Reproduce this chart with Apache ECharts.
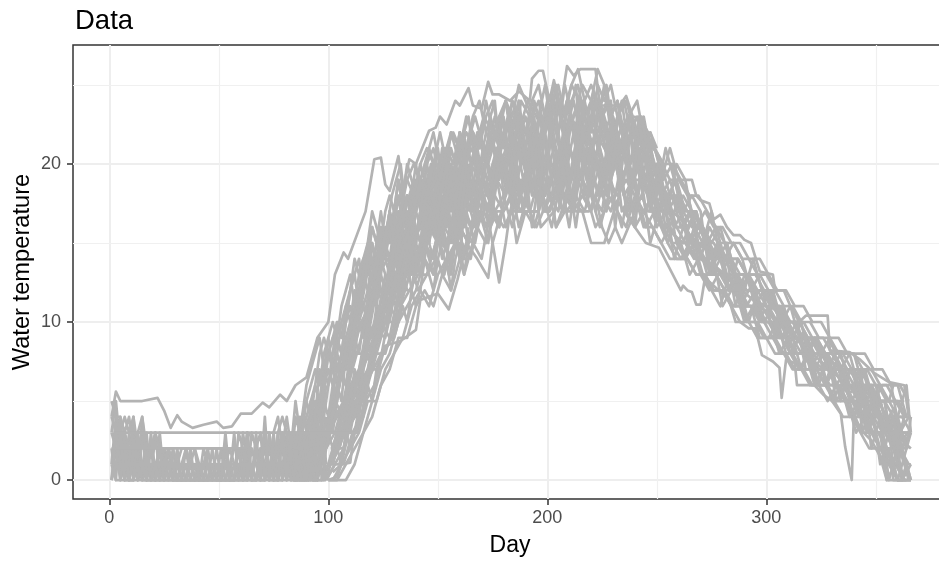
<!DOCTYPE html>
<html>
<head>
<meta charset="utf-8">
<script src="https://cdn.jsdelivr.net/npm/echarts@6/dist/echarts.min.js"></script>
<style>html,body{margin:0;padding:0;background:#fff;overflow:hidden}</style>
</head>
<body>
<div id="main" style="width:939px;height:561px"></div>
<script>
var xTicks = [0, 100, 200, 300];
var yTicks = [0, 10, 20];
var xMinor = [50, 150, 250, 350];
var yMinor = [5, 15, 25];

// days 99.. every 4 days, one row per year
var bandStarts = [99, 100, 101, 102];
var band1 = [3,5,7,9,11,14,13,15,17,16,18,18,20,19,21,20,22,21,23,22,21,23,22,24,23,22,24,23,25,24,23,22,24,22,21,22,20,21,19,18,19,17,17,16,15,16,14,14,13,13,12,11,11,10,10,9,9,8,8,7,7,7,6,6,5,5,4];
var band2 = [0,0,1,2,3,5,7,8,10,11,12,14,13,15,14,16,15,17,16,18,17,18,17,19,18,20,19,18,20,19,18,20,19,18,19,18,17,18,16,16,15,15,14,14,13,13,12,12,11,11,10,10,9,9,8,8,7,7,6,6,5,5,4,4,3,2,1];
var band3 = [1,2,4,5,8,9,12,11,14,15,14,17,16,18,17,19,21,20,19,21,20,22,19,21,23,20,22,24,21,23,20,22,19,21,20,18,20,18,17,18,16,17,15,15,14,14,13,12,12,11,11,10,10,9,9,8,8,7,7,6,6,5,5,4,4,3,2];
var band4 = [2,3,3,6,7,10,10,13,12,15,16,15,18,17,16,19,18,20,22,19,21,19,21,20,22,19,21,19,22,20,22,21,20,21,19,20,19,17,18,16,17,16,16,14,15,13,13,13,12,12,11,11,9,9,9,8,8,8,7,7,6,6,5,5,4,4,3];
var band5 = [0,1,2,4,6,7,9,12,11,13,15,14,16,18,19,17,20,18,21,19,22,20,18,20,21,23,21,20,18,21,23,21,22,20,18,19,21,19,17,17,18,16,15,16,14,13,14,12,11,12,10,11,10,8,9,9,7,7,7,6,6,5,6,4,3,3,1];
var band6 = [4,6,8,9,10,13,15,14,16,18,17,19,18,20,22,21,19,22,20,23,21,24,22,20,23,21,25,22,24,21,23,24,22,20,22,21,19,19,18,19,17,16,17,15,15,14,14,13,13,12,12,11,10,10,9,9,8,8,7,7,7,6,6,5,5,4,4];
var band7 = [1,1,3,3,5,6,8,9,11,12,13,13,15,16,15,17,16,18,17,19,18,20,17,19,18,17,19,17,18,17,19,18,17,19,20,18,16,17,16,15,14,15,15,13,13,12,12,11,11,10,10,9,9,8,8,7,7,6,6,5,5,4,4,3,3,2,0];
var band8 = [2,4,6,7,9,12,11,14,15,14,17,16,15,18,20,18,17,20,22,20,19,21,23,21,19,22,20,23,21,20,22,20,23,21,19,21,18,20,18,16,16,17,16,15,14,15,13,13,12,11,12,10,10,9,8,9,8,7,8,6,5,6,5,3,4,2,3];
var band9 = [0,2,2,5,7,8,11,10,13,13,15,17,16,15,17,18,20,17,19,18,20,18,21,19,20,22,18,20,19,22,19,21,18,20,22,19,20,17,19,17,16,15,14,15,14,13,12,13,11,11,10,9,10,8,8,8,7,6,7,6,5,4,4,3,2,1,0];
var band10 = [3,4,5,8,8,11,12,12,15,16,15,18,20,17,19,17,19,21,18,20,23,19,20,22,19,21,23,19,22,24,21,19,21,23,21,22,19,18,20,18,18,17,17,15,14,14,14,12,13,13,11,10,11,9,10,7,8,8,6,7,6,6,4,5,3,4,2];
var band11 = [1.5,2.5,4,6.5,8,8.5,10.5,13,14.5,13.5,16,17.5,15.5,17,18.5,20,18,19.5,21.5,20.5,18.5,20,22.5,20.5,19,21,23.5,21.5,20,22,24.5,22,19.5,21,22.5,20,18.5,19,17.5,17,16.5,15.5,15,14.5,13.5,13,12.5,12,11.5,11,10.5,10,9.5,9,8.5,8,7.5,7,6.5,6,5.5,5,4.5,4,3.5,3,2.5];
var band12 = [0.5,1,3.5,4.5,6,9.5,9,11.5,13.5,15.5,13,16.5,17.5,15,16,19.5,17,19,17.5,21,19.5,17.5,19,18,22,20,17.5,21,19,17.5,20.5,18.5,20.5,22.5,18,20.5,18,16.5,16,15.5,15,16.5,14,13.5,14.5,12.5,13,11.5,12.5,10.5,11,10.5,8.5,9.5,9,7.5,7,7.5,7,5.5,6,5.5,5,3.5,4.5,2.5,2];
var band13 = [2,3,5,8,10,11,14,16,14,17,19,17,20,16,18,16,18,16,20,17,22,21,24,18,22,17,20,18,23,19,21,18,20,18,21,17,18,20,17,18,15,14,16,16,13,15,12,14,13,12,12,12,9,10,10,9,9,6,8,8,7,7,3,6,6,5,5];
var band14 = [0,0,0,1,3,4,6,7,9,9,11,12,11,13,12,14,14,16,15,17,16,17,19,17,17,19,16,17,17,18,17,19,20,22,17,16,17,16,15,16,15,14,13,13,12,12,11,11,10,10,9,8,8,7,7,7,6,6,5,5,4,3,3,2,1,0,0];
var band15 = [3,6,9,11,14,12,14,18,20,15,16,20,17,19,15,18,17,22,20,22,24,21,17,22,20,19,18,22,25,18,19,23,24,19,23,24,21,21,20,20,19,18,18,17,16,15,15,14,14,14,13,12,12,11,11,10,10,9,9,8,8,8,7,7,6,6,5];
var band16 = [1,3,6,5,9,10,13,12,15,17,15,16,19,18,20,17,16,19,18,16,19,22,20,23,17,18,21,24,20,21,17,19,22,17,18,23,22,19,16,17,18,17,14,16,15,14,11,13,12,11,10,9,9,10,7,7,8,7,5,7,7,4,5,5,2,3,3];
var band17 = [0,1,1,3,4,7,7,10,10,12,14,15,14,16,14,15,17,15,18,15,17,19,16,18,21,18,20,17,19,21,22,20,17,22,18,17,19,15,17,15,14,14,15,13,12,11,13,12,10,10,9,9,8,8,7,8,6,6,5,4,4,3,2,2,0,1,0];
var band18 = [4,7,6,10,12,16,14,17,13,16,18,20,22,19,18,21,23,19,22,24,18,20,24,23,21,24,19,21,23,25,24,21,18,23,24,22,23,20,19,21,19,18,16,17,16,16,15,15,14,13,13,12,11,11,10,10,9,9,8,8,8,7,7,6,5,5,4];
var band19 = [2,2,4,4,6,8,8,9,12,14,12,13,14,13,17,15,14,17,15,19,16,18,21,16,20,18,17,20,16,20,18,17,21,19,17,20,17,19,18,15,15,13,14,14,13,12,11,11,11,9,9,10,8,7,7,6,6,6,6,5,3,4,3,3,1,2,1];
var band20 = [1,4,4,7,10,9,12,15,16,12,15,19,17,20,16,20,22,18,23,21,23,17,19,24,22,23,18,22,24,19,22,25,21,24,20,23,20,18,21,19,17,18,17,13,15,15,13,12,14,12,11,11,10,10,8,9,9,8,7,8,6,7,6,4,4,3,3];
var band21 = [2,4,5,7,9,11,13,14,13,15,17,19,18,16,17,19,21,23,21,18,20,22,24,20,18,22,25,22,19,24,20,23,25,21,19,23,21,22,20,17,20,19,16,15,17,14,14,14,13,11,12,12,10,11,9,8,9,8,8,6,7,5,6,5,4,2,4];
var band22 = [1,2,3,4,6,8,10,9,12,13,14,16,17,14,16,16,15,18,16,17,18,16,18,17,19,17,18,18,17,20,18,16,18,17,16,18,16,16,15,14,14,14,13,13,12,12,11,10,10,9,9,9,8,8,7,6,6,5,6,5,4,4,3,2,1,0,2];
var band23 = [3,3,6,6,8,10,11,14,16,14,16,18,19,21,18,16,20,19,17,21,19,23,21,18,24,22,19,24,22,20,24,23,20,22,23,18,22,21,19,20,17,15,16,15,16,14,15,14,12,13,12,11,10,10,10,9,8,9,8,7,7,7,5,6,6,3,4];
var band24 = [0,1,2,3,5,5,7,8,9,11,12,11,13,14,15,13,15,14,17,16,19,15,17,16,18,16,19,16,20,18,16,17,18,16,19,19,18,16,17,14,16,15,13,12,13,13,12,10,11,10,10,8,9,8,8,6,7,5,6,4,5,3,3,3,2,0,1];
var band25 = [2,5,4,6,7,9,10,11,13,12,14,15,17,15,13,16,19,21,17,18,21,23,18,19,22,18,24,20,17,23,18,24,22,16,21,19,23,20,19,18,16,16,15,14,13,14,12,13,12,12,10,10,9,8,9,8,7,6,7,7,5,6,4,4,2,2,0];
var band26 = [1,3,3,5,5,7,9,11,10,14,13,15,14,17,19,16,21,17,20,22,20,18,22,22,17,24,22,19,17,22,21,20,18,22,20,16,21,17,18,16,18,15,15,14,14,11,12,12,10,12,11,9,10,9,7,8,6,8,5,6,4,5,5,4,3,1,3];

// days 84.. every 2 days
var spring1 = [1,2,3,4,5,6,8,9,8,9,10,9,11,12,14,13,14,15,17,16,15,17,18,17,19,18,20,19,18,20,19,21,20,19,21,20,22,21,20,19,21];
var spring2 = [0,1,2,1,3,4,5,7,6,8,9,8,10,11,10,12,14,13,13,15,16,14,16,17,15,17,18,16,18,19,17,19,20,18,20,19,21,20,18,20,19];
var spring3 = [0,0,1,2,1,3,5,4,6,7,9,8,7,9,10,12,11,12,14,13,15,14,16,15,17,15,16,18,17,16,18,17,19,18,17,19,20,18,19,21,18];
var spring4 = [2,3,1,3,4,3,5,6,8,7,6,8,7,9,8,10,9,11,13,12,14,13,12,14,16,15,14,16,15,17,16,18,17,16,18,17,15,17,19,18,20];
var spring5 = [0,0,0,1,0,2,3,2,4,3,5,7,6,5,7,6,8,10,9,11,10,12,11,13,12,14,13,15,14,13,15,17,16,15,17,18,16,15,17,19,17];
var spring6 = [1,0,2,3,2,4,3,5,4,6,5,7,9,10,9,11,13,12,11,13,15,14,13,15,14,16,18,17,15,14,16,15,17,19,16,18,17,19,18,16,18];
var spring7 = [0,1,0,0,1,0,1,2,3,2,3,3,4,5,6,5,7,8,7,9,9,11,10,12,11,13,12,12,14,13,15,14,13,15,16,15,13,15,16,14,16];
var spring8 = [3,2,4,5,4,6,5,7,8,9,7,8,10,12,13,11,12,14,15,13,14,16,15,17,19,17,16,18,20,18,19,17,19,21,19,20,18,20,22,20,21];
var spring9 = [0,0,0,0,0,0,1,0,1,1,2,1,3,2,3,4,4,6,5,7,8,8,9,9,10,11,10,12,11,12,14,13,12,14,13,14,12,14,15,13,15];
var spring10 = [2,1,2,0,2,1,3,4,3,5,6,5,8,7,9,8,10,9,12,11,13,12,14,13,12,15,14,13,16,15,14,16,18,15,17,16,18,16,14,17,15];
var spring11 = [1,3,4,6,7,8,9,7,9,10,9,11,12,13,11,13,14,13,15,14,16,15,17,16,14,17,16,18,17,19,18,17,16,18,19,17,18,20,19,18,20];
var spring12 = [0,2,3,2,5,4,7,6,8,8,10,9,10,12,13,14,12,14,16,15,17,15,14,16,18,16,17,15,17,18,16,18,20,17,19,18,20,19,17,19,21];
var spring13 = [2,2,3,5,6,7,6,8,9,7,8,10,11,10,12,11,13,15,14,12,13,15,17,14,16,18,15,17,19,17,16,18,19,17,19,21,19,17,20,22,19];
var spring14 = [1,1,2,3,4,5,4,6,7,6,8,7,8,9,11,10,11,10,12,14,12,11,13,12,14,13,15,14,13,15,17,15,14,16,15,17,19,18,16,18,17];

// days 130.. every 3 days, warm years near the top of the bundle
var crest1 = [17,18,19,18,20,21,20,19,21,22,21,23,22,21,23,24,22,24,23,25,24,23,24,22,24,25,23,24,25,23,24,26,25,23,24,22,23,22,21,22,21];
var crest2 = [16,17,19,20,19,18,20,22,20,19,22,21,23,24,22,21,23,22,24,23,21,24,23,25,22,24,23,25,26,24,22,25,24,25,23,24,22,23,21,20,20];
var crest3 = [15,16,18,17,19,20,21,19,21,20,22,20,22,21,24,22,23,24,21,23,22,24,25,23,24,22,25,23,22,24,25,24,22,23,24,21,23,21,22,21,19];

// days 165.. every 3 days, cool year along the bottom
var floor1 = [15,16,17,16,17,17,18,17,17,17,16,17,17,18,17,18,17,17,17,18,16,15,16,15,16,17,18,17,17,16,15,16];

// days 1.. every 2 days
var winter1 = [4,3,1,0,2,0,0,1,0,3,0,0,0,1,0,0,0,0,1,0,0,0,2,0,0,0,1,0,0,0,2,0,0,3,0,1,0,0,2,0,0,2,0,0,1,3,0,0,2,0];
var winter2 = [3,5,2,0,3,1,0,4,2,0,1,0,2,0,1,0,0,1,0,0,1,0,0,0,0,2,0,0,1,0,0,0,1,0,0,0,0,2,0,0,3,0,0,2,0,0,1,0,4,1];
var winter3 = [2,0,4,1,0,3,1,0,0,2,0,3,0,0,2,0,1,0,0,0,0,1,0,0,2,0,0,0,0,1,0,2,0,0,1,2,0,3,0,0,1,0,3,0,0,0,3,0,1,3];
var winter4 = [1,4,0,3,0,0,2,0,3,0,0,1,0,2,0,0,0,2,0,1,0,0,0,2,0,0,0,1,0,0,3,1,0,0,2,0,3,0,0,1,0,0,1,4,0,2,0,0,0,2];
var winter5 = [0,2,0,0,1,4,0,1,0,0,3,0,1,0,0,1,0,0,0,0,0,2,1,0,0,0,2,0,0,2,0,0,2,1,0,0,1,0,3,0,2,0,0,1,3,0,0,4,0,0];
var winter6 = [0,3,1,2,0,2,0,3,0,1,0,0,2,1,0,0,0,0,2,0,1,0,0,1,0,1,0,0,3,0,0,3,0,0,0,3,0,0,1,2,0,1,2,0,0,1,3,0,0,1];
var winter7 = [4,4,3,4,3,4,2,3,2,0,0,1,1,2,2,1,0,0,0,0,0,0,1,1,0,0,0,0,0,1,1,0,0,0,2,1,1,0,0,3,2,1,0,3,2,0,2,1,3,0];
var winter8 = [2,2,2,3,2,2,3,3,2,2,1,1,2,2,1,1,2,2,2,2,1,1,2,2,2,2,1,1,2,2,0,0,1,1,0,0,1,1,2,2,1,2,2,3,3,2,3,3,3,2];
var winter9 = [3,2,1,0,0,1,0,0,1,1,0,0,0,0,0,0,0,0,0,0,0,0,0,1,1,0,0,1,1,1,0,1,1,0,1,2,1,0,0,1,2,1,1,2,1,1,0,0,2,2];
var winter10 = [5,4,4,3,4,2,3,4,1,2,3,2,1,2,1,0,1,2,1,1,0,0,1,0,1,0,1,2,1,0,1,3,0,2,3,0,2,1,0,3,0,3,0,2,4,3,1,3,2,4];
var winter11 = [1,0,0,2,0,0,1,0,0,0,0,2,0,0,0,0,1,0,0,0,1,0,0,0,1,0,0,0,0,3,2,0,3,2,0,3,3,1,3,4,3,1,4,3,4,2,4,5,4,6];
var winter12 = [0,1,3,0,0,0,3,1,0,0,1,0,0,1,0,2,0,0,1,2,0,0,0,0,0,0,3,0,0,0,0,3,0,2,0,4,0,3,4,2,4,2,5,3,1,4,2,5,3,7];

// days 340.. every 2 days
var tail1 = [6,5,6,4,5,3,4,2,3,1,2,0,1,0];
var tail2 = [7,6,6,5,5,5,4,4,4,3,3,2,2,3];
var tail3 = [5,5,4,4,3,3,2,2,1,1,0,0,0,0];
var tail4 = [6,7,6,6,5,5,5,4,4,4,4,5,4,4];
var tail5 = [4,5,3,4,2,3,1,2,0,1,0,0,1,0];
var tail6 = [7,6,5,6,5,4,4,3,3,3,2,2,1,1];
var tail7 = [5,4,5,3,4,3,3,1,2,0,0,0,0,0];
var tail8 = [6,5,5,5,6,4,5,5,3,4,2,3,2,4];
var tail9 = [8,7,7,6,6,6,5,5,5,6,6,5,6,3];

// the years that stick out of the bundle
var topDays = [1,3,5,10,15,22,25,28,31,33,38,43,49,52,56,60,65,70,73,78,81,85,90,95,100,103,107,109,113,117,121,124,126,128,132,134,137,140,146,149,151,154,158,160,164,166,170,173,175,178,183,187,192,193,196,198,201,203,206,209,212,215,222,224,226,233,236,239,243,245,250,256,262,266,268,270,274,276,279,282,285,288,290,293,297,303,304,308,311,315,318,328,329,338,343,349,356,363,365];
var topVals = [4,5.6,5,5,5,5.2,4.4,3.3,4.1,3.7,3.3,3.5,3.7,3.3,3.4,4.2,4.2,4.9,4.6,5.4,5,6,6.5,9,10,13,14.4,14,15.5,17,20.3,20.4,18.7,18.3,20.5,18.3,20.3,20,22.1,22.3,23,22.5,24,23.7,24.8,23.7,23.5,25.2,24.4,24.4,24,24.6,24,25.4,25.9,25.9,24,25.3,23.5,26.2,25.6,26,26,23.7,23.7,23.7,24.3,23,22.9,21.5,20.7,19,19,19,18,17.7,17.5,16.5,16.8,16,15.5,15.5,15.2,15,13.2,13,12,12,11,10,10.4,10.4,8.2,8.1,7.6,6.8,6.2,6,4];
var lowDays = [100,104,106,110,111,113,116,119,126,133,140,142,150,155,159,163,168,173,175,178,181,183,196,197,203,204,209,216,220,226,232,235,245,251,261,262,264,266,268,270,272,283,286,288,292,295,298,303,306,307,309,313,314,317,322,326,330,334,336,339,340,343,348,354,355,366];
var lowVals = [0,0.2,1,1.1,2.2,3.8,6,6.6,8.5,8.8,9.5,11.4,11.8,10.8,12.7,15,14,12.8,15,12.5,15,17,17,16,17,16,18,17,15,15,17.7,17,15,14.7,12,12.3,12,11.9,11.1,11.1,12.8,11.4,10,10,9.6,9.6,7.9,7.5,7.1,5.2,7.6,7.4,6,6,6,5.4,5,4.2,2.1,0,4.2,3.2,2.5,1,0,0];
var flat3Days = [2,20,22,113,116];
var flat3Vals = [3,3,3,3,6];
var flat2Days = [3,30,31,62,64];
var flat2Vals = [2,2,2,2,3];
var flat1Days = [5,40,42,75,78];
var flat1Vals = [1,1,1,1,2];

var bands = [band1,band2,band3,band4,band5,band6,band7,band8,band9,band10,band11,band12,band13,band14,band15,band16,band17,band18,band19,band20,band21,band22,band23,band24,band25,band26];
var springs = [spring1,spring2,spring3,spring4,spring5,spring6,spring7,spring8,spring9,spring10,spring11,spring12,spring13,spring14];
var crests = [crest1,crest2,crest3];
var winters = [winter1,winter2,winter3,winter4,winter5,winter6,winter7,winter8,winter9,winter10,winter11,winter12];
var tails = [tail1,tail2,tail3,tail4,tail5,tail6,tail7,tail8,tail9];

var grey = '#b3b3b3';
function pairs(days, vals) {
  return vals.map(function (v, i) { return [days[i], v]; });
}
function stepped(start, step, vals) {
  return vals.map(function (v, i) { return [start + step * i, v]; });
}
function lineSeries(data) {
  return {
    type: 'line', data: data, showSymbol: false, symbol: 'none', silent: true, z: 3,
    lineStyle: { color: grey, width: 2.7, join: 'round' }
  };
}

var series = [];
// minor grid sits on a helper series
series.push({
  type: 'line', data: [], z: 1, silent: true,
  markLine: {
    z: 1, silent: true, symbol: 'none', animation: false, label: { show: false },
    lineStyle: { color: '#f0f0f0', width: 1.2, type: 'solid' },
    data: xMinor.map(function (v) { return { xAxis: v }; }).concat(yMinor.map(function (v) { return { yAxis: v }; }))
  }
});
winters.forEach(function (w) { series.push(lineSeries(stepped(1, 2, w))); });
springs.forEach(function (s) { series.push(lineSeries(stepped(84, 2, s))); });
bands.forEach(function (b, i) { series.push(lineSeries(stepped(bandStarts[i % 4], 4, b))); });
crests.forEach(function (c) { series.push(lineSeries(stepped(130, 3, c))); });
series.push(lineSeries(stepped(165, 3, floor1)));
tails.forEach(function (t) { series.push(lineSeries(stepped(340, 2, t))); });
series.push(lineSeries(pairs(topDays, topVals)));
series.push(lineSeries(pairs(lowDays, lowVals)));
series.push(lineSeries(pairs(flat3Days, flat3Vals)));
series.push(lineSeries(pairs(flat2Days, flat2Vals)));
series.push(lineSeries(pairs(flat1Days, flat1Vals)));

var myChart = echarts.init(document.getElementById('main'), null, { renderer: 'canvas' });
var font = 'Liberation Sans, Arial, sans-serif';
myChart.setOption({
  animation: false,
  backgroundColor: '#fff',
  title: {
    text: 'Data', left: 70, top: 2,
    textStyle: { fontFamily: font, fontSize: 27.5, fontWeight: 'normal', color: '#000' }
  },
  grid: { left: 73, top: 45, width: 874, height: 454, outerBoundsMode: 'none', show: true, borderColor: '#333', borderWidth: 1.5, backgroundColor: 'transparent' },
  xAxis: {
    type: 'value', min: -16.6, max: 382.5,
    name: 'Day', nameLocation: 'middle', nameGap: 35,
    nameTextStyle: { fontFamily: font, fontSize: 23, color: '#000' },
    axisLine: { show: false, onZero: false },
    axisTick: { show: true, length: 6, customValues: xTicks, lineStyle: { color: '#333', width: 1.5 } },
    axisLabel: { customValues: xTicks, fontFamily: font, fontSize: 18, color: '#4d4d4d', margin: 10 },
    splitLine: { show: true, lineStyle: { color: '#eeeeee', width: 2 } }
  },
  yAxis: {
    type: 'value', min: -1.2, max: 27.53,
    name: 'Water temperature', nameLocation: 'middle', nameGap: 39, nameMoveOverlap: false,
    nameTextStyle: { fontFamily: font, fontSize: 23.7, color: '#000' },
    axisLine: { show: false, onZero: false },
    axisTick: { show: true, length: 6, customValues: yTicks, lineStyle: { color: '#333', width: 1.5 } },
    axisLabel: { customValues: yTicks, fontFamily: font, fontSize: 18, color: '#4d4d4d', margin: 12 },
    splitLine: { show: true, lineStyle: { color: '#eeeeee', width: 2 } }
  },
  series: series
});
</script>
</body>
</html>
